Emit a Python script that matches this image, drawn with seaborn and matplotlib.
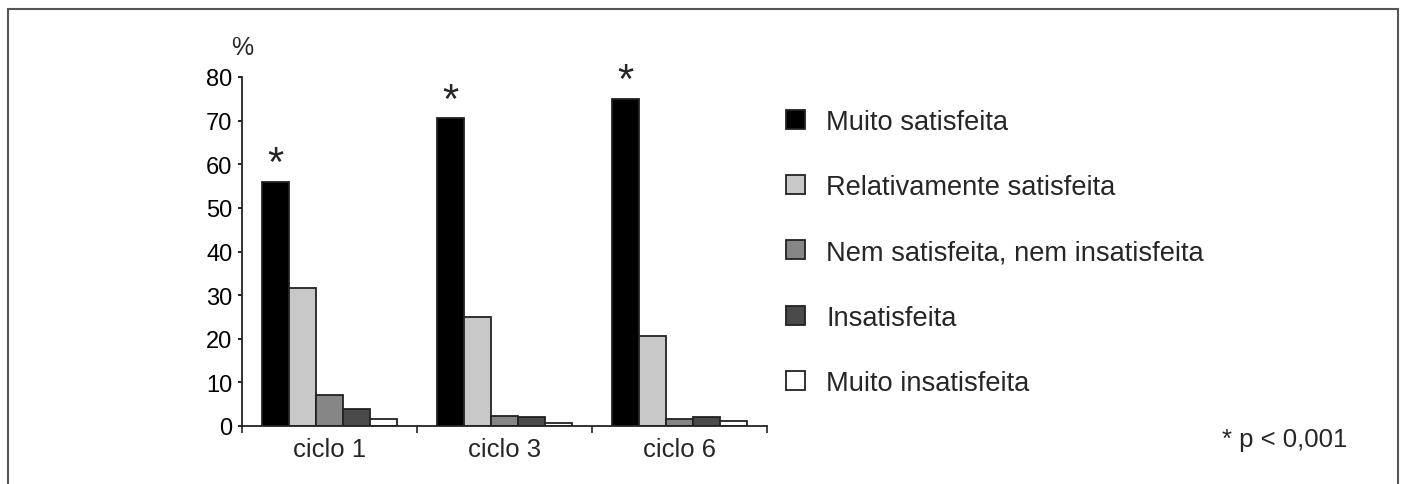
import matplotlib.pyplot as plt
import matplotlib.patches as mpatches
import numpy as np
import pandas as pd
import seaborn as sns

# Data (percent of women per answer)
ciclos = ['ciclo 1', 'ciclo 3', 'ciclo 6']
respostas = ['Muito satisfeita', 'Relativamente satisfeita',
             'Nem satisfeita, nem insatisfeita', 'Insatisfeita',
             'Muito insatisfeita']
muito_satisfeita = [56.0, 70.6, 75.0]
relativamente_satisfeita = [31.7, 25.0, 20.6]
nem_nem = [7.1, 2.4, 1.6]
insatisfeita = [4.0, 2.0, 2.0]
muito_insatisfeita = [1.6, 0.8, 1.2]
significativo = [True, True, True]

cores = ['#000000', '#c8c8c8', '#868686', '#4a4a4a', '#ffffff']

series = [muito_satisfeita, relativamente_satisfeita, nem_nem,
          insatisfeita, muito_insatisfeita]
rows = []
for resp, vals in zip(respostas, series):
    for ciclo, v in zip(ciclos, vals):
        rows.append({'ciclo': ciclo, 'resposta': resp, 'pct': v})
df = pd.DataFrame(rows)

sns.set_style('ticks')
plt.rcParams['font.family'] = ['Liberation Sans', 'DejaVu Sans']

W, H = 1404, 485
fig = plt.figure(figsize=(W / 100, H / 100), dpi=100)
ax = fig.add_axes([242 / W, 1 - 427 / H, (767 - 242) / W, 349 / H])

sns.barplot(data=df, x='ciclo', y='pct', hue='resposta', order=ciclos,
            hue_order=respostas, palette=cores, width=0.77, gap=0,
            edgecolor='#222222', linewidth=1.3, saturation=1, ax=ax)
ax.get_legend().remove()

# significance asterisks above the "Muito satisfeita" bars
for bar, sig in zip(ax.containers[0], significativo):
    if sig:
        ax.text(bar.get_x() + bar.get_width() / 2, bar.get_height() + 4.0, '*',
                ha='center', va='center', fontsize=30)

ax.set_xlim(-0.5, 2.5)
ax.set_ylim(0, 80)
ax.set_yticks(np.arange(0, 81, 10))
ax.set_xlabel('')
ax.set_ylabel('')
ax.tick_params(axis='y', labelsize=17, length=3, width=1.2, pad=4, colors='black')
ax.tick_params(axis='x', which='major', labelsize=18.5, length=0, pad=8)
ax.set_xticks([-0.5, 0.5, 1.5, 2.5], minor=True)
ax.tick_params(axis='x', which='minor', length=5, width=1.2, direction='out')
sns.despine(ax=ax)
for side in ['left', 'bottom']:
    ax.spines[side].set_linewidth(1.3)
    ax.spines[side].set_color('#222222')

ax.text(0, 1 + 30 / 349, '%', transform=ax.transAxes, ha='center', va='center',
        fontsize=18)

# legend with square handles
handles = [mpatches.Patch(facecolor=c, edgecolor='#222222', linewidth=1.3) for c in cores]
fig.legend(handles, respostas, loc='upper left',
           bbox_to_anchor=(786 / W, 1 - 110 / H), frameon=False,
           fontsize=19.6, handlelength=0.7, handleheight=0.7,
           handletextpad=0.78, labelspacing=1.44, borderpad=0, borderaxespad=0)

fig.text(1222 / W, 1 - 440 / H, '* p < 0,001', ha='left', va='center', fontsize=18.5)

# outer frame of the figure
frame = mpatches.Rectangle((7.5 / W, -0.1), (1398 - 7.5) / W, 1.1 - 10 / H,
                           transform=fig.transFigure, fill=False,
                           edgecolor='#555555', linewidth=1.5)
fig.add_artist(frame)

plt.savefig('out.png', dpi=100)
